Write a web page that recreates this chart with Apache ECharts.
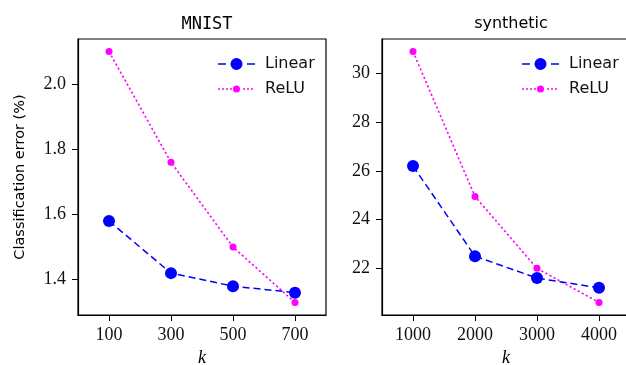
<!DOCTYPE html>
<html><head><meta charset="utf-8">
<script src="https://cdn.jsdelivr.net/npm/echarts@6/dist/echarts.min.js"></script>
<style>html,body{margin:0;padding:0;background:#fff}#c{width:626px;height:365px}</style>
</head><body><div id="c"></div>
<script>
const mnistK = [100, 300, 500, 700];
const mnistLinear = [1.58, 1.42, 1.38, 1.36];
const mnistReLU = [2.10, 1.76, 1.50, 1.33];
const synthK = [1000, 2000, 3000, 4000];
const synthLinear = [26.2, 22.5, 21.6, 21.2];
const synthReLU = [30.9, 24.95, 22.0, 20.6];
const mnistYTicks = [1.4, 1.6, 1.8, 2.0];
const synthYTicks = [22, 24, 26, 28, 30];
const titles = ['MNIST', 'synthetic'];
const seriesNames = ['Linear', 'ReLU'];

const BLUE = '#0000ff', MAG = '#ff00ff';
const serif = 'Liberation Serif';
const sans = 'DejaVu Sans';

function pairs(xs, ys) { return xs.map((x, i) => [x, ys[i]]); }

const corner = 'M0 0h0.01v0.01h-0.01Z M37 14h-0.01v-0.01h0.01Z ';
function circ(cx, cy, r) { return `M${cx - r} ${cy}A${r} ${r} 0 1 0 ${cx + r} ${cy}A${r} ${r} 0 1 0 ${cx - r} ${cy}Z `; }
const linIcon = 'path://' + corner + 'M0 6.25H8V7.75H0Z M29 6.25H37V7.75H29Z ' + circ(18.5, 7, 6);
let dots = '';
for (const x of [0, 4, 8, 12, 25, 29, 33]) dots += `M${x} 6.25H${x + 2}V7.75H${x}Z `;
const reluIcon = 'path://' + corner + dots + circ(18.5, 7, 3.5);

const gridTop = 39, gridH = 276, gridW = 248;
const lefts = [78, 382];

function xAxis(i, min, max, ticks) {
  return {
    type: 'value', gridIndex: i, min: min, max: max,
    name: 'k', nameLocation: 'middle', nameGap: 34,
    nameTextStyle: { fontFamily: serif, fontStyle: 'italic', fontSize: 18, color: '#000' },
    axisLine: { show: true, lineStyle: { color: '#000', width: 1.2 } },
    axisTick: { show: true, inside: false, length: 6, customValues: ticks, lineStyle: { color: '#000', width: 1 } },
    axisLabel: { customValues: ticks, margin: 11, fontFamily: serif, fontSize: 18, color: '#111',
      formatter: v => String(v) },
    splitLine: { show: false }
  };
}
function yAxis(i, min, max, ticks, dec, name) {
  return {
    type: 'value', gridIndex: i, min: min, max: max,
    name: name || '', nameLocation: 'middle', nameGap: 50,
    nameTextStyle: { fontFamily: sans, fontSize: 14.5, color: '#000' },
    axisLine: { show: true, lineStyle: { color: '#000', width: 1.2 } },
    axisTick: { show: true, inside: false, length: 6, customValues: ticks, lineStyle: { color: '#000', width: 1 } },
    axisLabel: { customValues: ticks, margin: 12, fontFamily: serif, fontSize: 18, color: '#111',
      formatter: v => v.toFixed(dec) },
    splitLine: { show: false }
  };
}
function lin(i, xs, ys) {
  return {
    name: seriesNames[0], type: 'line', xAxisIndex: i, yAxisIndex: i, data: pairs(xs, ys),
    symbol: 'circle', symbolSize: 12, color: BLUE, z: 3,
    lineStyle: { color: BLUE, width: 1.5, type: [7, 4] },
    itemStyle: { color: BLUE, borderWidth: 0 }, animation: false
  };
}
function relu(i, xs, ys) {
  return {
    name: seriesNames[1], type: 'line', xAxisIndex: i, yAxisIndex: i, data: pairs(xs, ys),
    symbol: 'circle', symbolSize: 7, color: MAG, z: 2,
    lineStyle: { color: MAG, width: 1.6, type: [2.2, 2.4] },
    itemStyle: { color: MAG, borderWidth: 0 }, animation: false
  };
}
function legend(left) {
  return {
    left: left, top: 51, orient: 'vertical', itemWidth: 37, itemHeight: 14, itemGap: 9,
    selectedMode: false,
    itemStyle: { borderWidth: 0 },
    textStyle: { fontFamily: sans, fontSize: 16, color: '#111', lineHeight: 16, padding: [0, 0, 0, 5] },
    data: [{ name: seriesNames[0], icon: linIcon }, { name: seriesNames[1], icon: reluIcon }]
  };
}

const chart = echarts.init(document.getElementById('c'), null, { renderer: 'canvas' });
chart.setOption({
  animation: false,
  backgroundColor: '#fff',
  title: [
    { text: titles[0], left: lefts[0] + gridW / 2, textAlign: 'center', top: 11,
      textStyle: { fontFamily: 'DejaVu Sans Mono', fontWeight: 'normal', fontSize: 17, color: '#000' } },
    { text: titles[1], left: lefts[1] + gridW / 2, textAlign: 'center', top: 11,
      textStyle: { fontFamily: sans, fontWeight: 'normal', fontSize: 16, color: '#000' } }
  ],
  grid: lefts.map(l => ({ left: l, top: gridTop, width: gridW, height: gridH, show: true,
    borderColor: '#000', borderWidth: 1.2, backgroundColor: 'transparent',
    containLabel: false, outerBoundsMode: 'none' })),
  xAxis: [xAxis(0, 0, 800, mnistK), xAxis(1, 500, 4500, synthK)],
  yAxis: [yAxis(0, 1.2915, 2.1385, mnistYTicks, 1, 'Classification error (%)'),
          yAxis(1, 20.085, 31.415, synthYTicks, 0)],
  legend: [legend(213), legend(517)],
  series: [lin(0, mnistK, mnistLinear), relu(0, mnistK, mnistReLU),
           lin(1, synthK, synthLinear), relu(1, synthK, synthReLU)]
});
</script></body></html>
